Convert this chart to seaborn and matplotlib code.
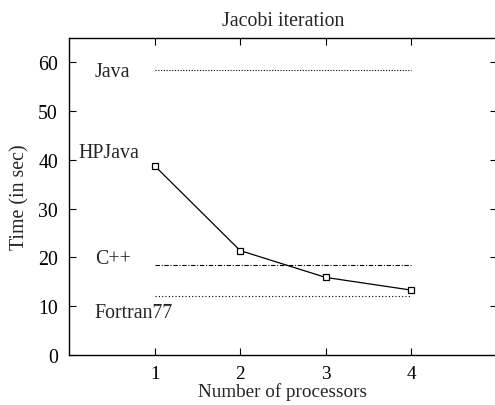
import matplotlib
matplotlib.use("Agg")
import matplotlib.pyplot as plt
import seaborn as sns
import pandas as pd

# data
processors = [1, 2, 3, 4]
hpjava_time = [38.8, 21.4, 15.9, 13.3]
java_time = 58.4
cpp_time = 18.5
fortran_time = 12.0
xticks = [1, 2, 3, 4]
yticks = [0, 10, 20, 30, 40, 50, 60]

sns.set_theme(style="ticks")
plt.rcParams['font.family'] = ['Liberation Serif', 'DejaVu Serif']

fig = plt.figure(figsize=(4.95, 4.06), dpi=100)
ax = fig.add_axes([0.1394, 0.1232, 0.8646, 0.7808])

span = [processors[0], processors[-1]]
ref = pd.DataFrame({
    "x": span * 3,
    "y": [java_time] * 2 + [cpp_time] * 2 + [fortran_time] * 2,
    "lang": ["Java"] * 2 + ["C++"] * 2 + ["Fortran77"] * 2,
})
styles = {"Java": (0, (1, 1.5)), "C++": (0, (4, 1.5, 1, 1.5)), "Fortran77": (0, (1, 2))}
for lang, grp in ref.groupby("lang"):
    sns.lineplot(data=grp, x="x", y="y", color="black", linewidth=0.8,
                 linestyle=styles[lang], ax=ax, legend=False)

hp = pd.DataFrame({"x": processors, "y": hpjava_time})
sns.lineplot(data=hp, x="x", y="y", color="black", linewidth=0.9, marker="s",
             markersize=5, markerfacecolor="white", markeredgecolor="black",
             markeredgewidth=0.9, ax=ax)

fs = 14.3
ax.text(0.30, java_time - 0.3, "Java", fontsize=fs, va="center", ha="left")
ax.text(0.105, 41.6, "HPJava", fontsize=fs, va="center", ha="left")
ax.text(0.30, 19.8, "C++", fontsize=fs, va="center", ha="left")
ax.text(0.30, 8.8, "Fortran77", fontsize=fs, va="center", ha="left")

ax.set_xlim(0, 5)
ax.set_ylim(0, 65)
ax.set_xticks(xticks)
ax.set_yticks(yticks)
ax.tick_params(direction="in", top=True, right=True, length=5, width=0.8,
               labelsize=fs, colors="black", pad=8)
ax.tick_params(axis="x", pad=7, labelsize=13.8)
for s in ax.spines.values():
    s.set_linewidth(1.0)
    s.set_color("black")

ax.set_title("Jacobi iteration", fontsize=fs, pad=9)
ax.set_xlabel("Number of processors", fontsize=13.8, labelpad=0.5)
ax.set_ylabel("Time (in sec)", fontsize=fs, labelpad=6)

fig.savefig("out.png", dpi=100)
